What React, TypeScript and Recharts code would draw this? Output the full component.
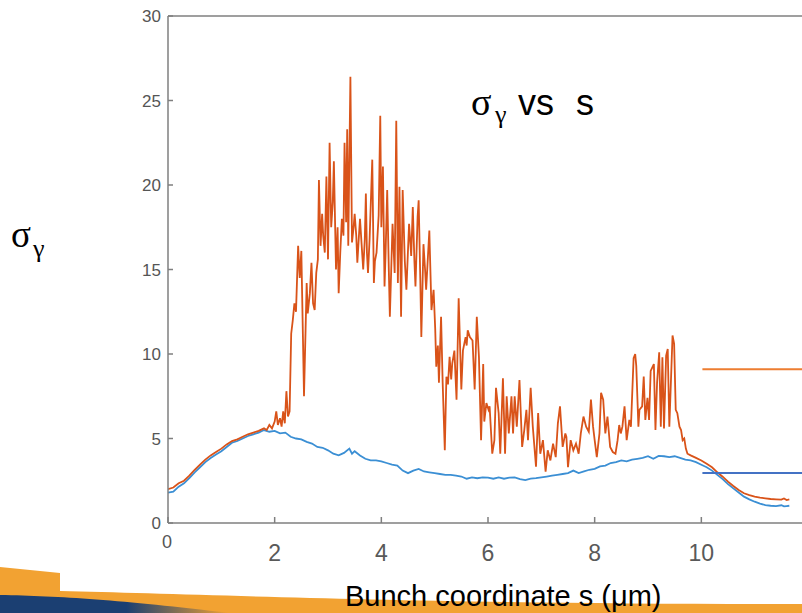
import { LineChart, Line, XAxis, YAxis, ReferenceLine } from "recharts";

// s (µm), sigma_gamma
const blueTrace: number[][] = [
  [0, 1.8], [0.1, 1.85], [0.2, 2.15], [0.3, 2.35], [0.4, 2.65], [0.5, 3.0], [0.6, 3.3], [0.7, 3.6],
  [0.8, 3.85], [0.9, 4.05], [1.0, 4.25], [1.1, 4.5], [1.2, 4.75], [1.3, 4.85], [1.4, 5.0], [1.5, 5.15],
  [1.6, 5.25], [1.7, 5.35], [1.8, 5.5], [1.9, 5.4], [2.0, 5.45], [2.1, 5.3], [2.2, 5.35], [2.3, 5.1],
  [2.4, 5.0], [2.5, 4.95], [2.6, 4.8], [2.7, 4.7], [2.8, 4.5], [2.9, 4.45], [3.0, 4.3], [3.1, 4.1],
  [3.2, 4.0], [3.3, 4.15], [3.4, 4.4], [3.45, 4.1], [3.5, 4.25], [3.6, 4.0], [3.7, 3.8], [3.8, 3.7],
  [3.9, 3.7], [4.0, 3.65], [4.1, 3.55], [4.2, 3.45], [4.3, 3.4], [4.4, 3.1], [4.5, 2.95], [4.6, 3.1],
  [4.7, 3.2], [4.8, 3.05], [4.9, 3.0], [5.0, 2.95], [5.1, 2.9], [5.2, 2.85], [5.3, 2.85], [5.4, 2.8],
  [5.5, 2.75], [5.6, 2.62], [5.7, 2.7], [5.8, 2.65], [5.9, 2.7], [6.0, 2.68], [6.1, 2.62], [6.2, 2.7],
  [6.3, 2.62], [6.4, 2.68], [6.5, 2.7], [6.6, 2.6], [6.7, 2.54], [6.8, 2.62], [6.9, 2.65], [7.0, 2.7],
  [7.1, 2.75], [7.2, 2.8], [7.3, 2.85], [7.4, 2.9], [7.5, 2.95], [7.6, 3.1], [7.7, 2.95], [7.8, 3.05],
  [7.9, 3.15], [8.0, 3.2], [8.1, 3.35], [8.2, 3.4], [8.3, 3.55], [8.4, 3.6], [8.5, 3.7], [8.6, 3.65],
  [8.7, 3.75], [8.8, 3.8], [8.9, 3.85], [9.0, 3.95], [9.1, 3.8], [9.2, 3.97], [9.3, 3.95], [9.4, 3.9],
  [9.5, 3.95], [9.6, 3.85], [9.7, 3.75], [9.8, 3.7], [9.9, 3.6], [10.0, 3.45], [10.1, 3.3], [10.2, 3.1],
  [10.3, 2.85], [10.4, 2.6], [10.5, 2.3], [10.6, 2.05], [10.7, 1.8], [10.8, 1.56], [10.9, 1.4], [11.0, 1.26],
  [11.1, 1.15], [11.2, 1.06], [11.3, 1.02], [11.4, 1.0], [11.5, 1.05], [11.55, 0.98], [11.6, 1.0], [11.65, 1.02],
];

const orangeTrace: number[][] = [
  [0, 2.0], [0.1, 2.1], [0.2, 2.35], [0.3, 2.5], [0.4, 2.8], [0.5, 3.15], [0.6, 3.45], [0.7, 3.75],
  [0.8, 4.0], [0.9, 4.2], [1.0, 4.4], [1.1, 4.65], [1.2, 4.85], [1.3, 4.95], [1.4, 5.1], [1.5, 5.25],
  [1.6, 5.35], [1.7, 5.45], [1.8, 5.6], [1.85, 5.5], [1.9, 5.8], [1.95, 5.6], [2.0, 6.0], [2.03, 6.6],
  [2.06, 5.8], [2.1, 6.2], [2.13, 5.7], [2.16, 6.6], [2.19, 5.9], [2.22, 7.8], [2.25, 6.3], [2.28, 6.6],
  [2.31, 11.2], [2.34, 12.0], [2.37, 13.0], [2.4, 12.5], [2.44, 16.4], [2.47, 14.5], [2.5, 16.1], [2.53, 11.0],
  [2.55, 7.5], [2.58, 11.5], [2.6, 14.2], [2.62, 12.4], [2.66, 13.6], [2.69, 15.4], [2.72, 13.0], [2.75, 12.6],
  [2.78, 14.8], [2.81, 15.6], [2.83, 20.3], [2.86, 16.4], [2.89, 18.3], [2.91, 17.0], [2.94, 16.0], [2.97, 20.5],
  [3.0, 15.6], [3.03, 22.5], [3.06, 17.5], [3.09, 19.0], [3.11, 21.4], [3.15, 15.0], [3.18, 17.5], [3.2, 13.6],
  [3.23, 16.0], [3.26, 18.0], [3.29, 17.0], [3.31, 22.5], [3.34, 17.8], [3.36, 23.3], [3.38, 16.4], [3.42, 26.4],
  [3.45, 16.6], [3.48, 17.5], [3.5, 18.3], [3.53, 17.0], [3.55, 15.4], [3.58, 17.0], [3.6, 18.0], [3.63, 16.5],
  [3.66, 15.0], [3.69, 16.8], [3.71, 19.5], [3.73, 16.0], [3.75, 14.8], [3.78, 16.8], [3.83, 21.5], [3.86, 14.2],
  [3.88, 15.5], [3.91, 16.0], [3.95, 18.2], [3.98, 24.1], [4.0, 17.5], [4.03, 21.1], [4.06, 14.0], [4.08, 16.0],
  [4.11, 19.7], [4.14, 15.0], [4.16, 12.2], [4.19, 15.5], [4.21, 17.7], [4.25, 14.8], [4.28, 23.8], [4.31, 14.2],
  [4.34, 19.9], [4.37, 12.2], [4.4, 19.7], [4.44, 15.5], [4.47, 13.8], [4.52, 17.7], [4.56, 15.8], [4.59, 18.7],
  [4.62, 15.5], [4.64, 14.0], [4.68, 18.1], [4.7, 19.1], [4.73, 14.5], [4.75, 11.0], [4.79, 16.5], [4.82, 15.0],
  [4.84, 13.8], [4.9, 17.3], [4.94, 12.6], [4.98, 13.8], [5.01, 11.5], [5.03, 9.25], [5.06, 10.5], [5.08, 8.3],
  [5.12, 12.2], [5.15, 8.3], [5.19, 4.3], [5.22, 8.66], [5.25, 8.2], [5.28, 9.84], [5.31, 8.5], [5.33, 9.45],
  [5.37, 10.2], [5.41, 7.3], [5.45, 13.3], [5.5, 7.9], [5.53, 10.2], [5.58, 11.0], [5.6, 10.5], [5.62, 11.4],
  [5.66, 11.0], [5.71, 10.8], [5.75, 7.9], [5.79, 12.2], [5.83, 9.84], [5.87, 4.9], [5.91, 9.4], [5.93, 6.0],
  [5.97, 7.1], [6.01, 6.7], [6.03, 6.9], [6.08, 4.1], [6.12, 4.9], [6.15, 8.0], [6.2, 6.5], [6.23, 4.1],
  [6.28, 8.56], [6.32, 4.1], [6.35, 7.5], [6.39, 5.3], [6.44, 7.5], [6.47, 5.3], [6.5, 7.5], [6.54, 5.7],
  [6.59, 8.46], [6.64, 4.5], [6.68, 5.5], [6.72, 6.7], [6.75, 4.9], [6.8, 8.0], [6.84, 5.7], [6.9, 3.33],
  [6.94, 6.5], [6.98, 4.1], [7.03, 4.9], [7.08, 3.04], [7.12, 4.3], [7.17, 3.7], [7.22, 4.7], [7.27, 3.9],
  [7.31, 5.9], [7.35, 6.9], [7.4, 4.5], [7.45, 5.3], [7.47, 5.1], [7.5, 3.3], [7.55, 4.9], [7.6, 4.3],
  [7.65, 4.7], [7.7, 4.1], [7.74, 5.3], [7.79, 6.3], [7.84, 5.7], [7.89, 5.4], [7.93, 7.3], [7.97, 5.7],
  [8.0, 4.9], [8.04, 3.9], [8.09, 5.3], [8.12, 7.7], [8.16, 7.3], [8.2, 5.3], [8.24, 6.3], [8.29, 4.5],
  [8.34, 4.2], [8.39, 4.1], [8.43, 4.9], [8.46, 5.8], [8.49, 5.3], [8.52, 5.7], [8.56, 6.9], [8.6, 4.9],
  [8.65, 6.1], [8.68, 5.7], [8.73, 9.75], [8.76, 10.0], [8.78, 9.3], [8.82, 5.7], [8.84, 6.7], [8.89, 6.9],
  [8.92, 8.66], [8.95, 6.1], [8.99, 7.4], [9.02, 6.1], [9.05, 9.0], [9.11, 9.4], [9.14, 5.5], [9.17, 8.3],
  [9.21, 10.1], [9.24, 5.7], [9.27, 9.8], [9.3, 5.6], [9.34, 9.9], [9.37, 10.3], [9.4, 5.7], [9.46, 11.1],
  [9.49, 10.6], [9.52, 6.7], [9.55, 6.5], [9.59, 5.7], [9.62, 5.5], [9.65, 4.9], [9.68, 5.0], [9.71, 4.4],
  [9.74, 4.1], [9.8, 4.0], [9.9, 3.85], [10.0, 3.7], [10.1, 3.5], [10.2, 3.3], [10.3, 3.0], [10.4, 2.74],
  [10.5, 2.45], [10.6, 2.19], [10.7, 1.95], [10.8, 1.76], [10.9, 1.65], [11.0, 1.56], [11.1, 1.5], [11.2, 1.46],
  [11.3, 1.42], [11.4, 1.4], [11.5, 1.38], [11.55, 1.45], [11.6, 1.36], [11.65, 1.4],
];

// the two short key lines at the right edge
const orangeKey = [[10.02, 9.1], [12, 9.1]];
const blueKey = [[10.02, 2.96], [12, 2.96]];

const xTicks = [0, 2, 4, 6, 8, 10, 12];
const yTicks = [0, 5, 10, 15, 20, 25, 30];

const toRows = (t: number[][]) => t.map(([s, v]) => ({ s, v }));
const toSeg = (t: number[][]) => t.map(([x, y]) => ({ x, y }));

const axisGray = "#7f7f7f";
const serif = "'Liberation Serif', 'Times New Roman', serif";
const sans = "'Liberation Sans', Arial, sans-serif";

const BottomTick = (props: any) => {
  const { x, y, payload } = props;
  if (payload.value > 10) return <g />;
  const zero = payload.value === 0;
  return (
    <text
      x={zero ? x - 1 : x}
      y={zero ? y - 10 : y}
      dy="0.71em"
      textAnchor="middle"
      fontSize={zero ? 18 : 23}
      fill={zero ? "#555" : "#595959"}
    >
      {payload.value}
    </text>
  );
};

export default function App() {
  return (
    <div
      style={{
        position: "fixed",
        left: 0,
        top: 0,
        width: 802,
        height: 613,
        overflow: "hidden",
        background: "#fff",
        fontFamily: sans,
      }}
    >
      {/* slide footer swoosh */}
      <svg width={802} height={613} style={{ position: "absolute", left: 0, top: 0 }}>
        <defs>
          <linearGradient id="foot" x1="0" x2="1" y1="0" y2="0">
            <stop offset="0" stopColor="#1B3F72" />
            <stop offset="0.55" stopColor="#1B3F72" />
            <stop offset="1" stopColor="#F2A232" />
          </linearGradient>
        </defs>
        <path d="M0,567 L60,573 L60,591 C200,594 420,604 802,604 L802,613 L0,613 Z" fill="#F2A232" />
        <path d="M0,595 C60,596 120,600 230,613 L0,613 Z" fill="url(#foot)" />
      </svg>

      <div style={{ position: "absolute", left: 0, top: 0 }}>
        <LineChart width={850} height={613} margin={{ top: 0, right: 0, bottom: 0, left: 0 }} style={{ fontFamily: sans }}>
          <XAxis
            dataKey="s"
            type="number"
            domain={[0, 12]}
            ticks={xTicks}
            height={90}
            stroke={axisGray}
            strokeWidth={1.5}
            tickSize={-6}
            tickMargin={28}
            tick={<BottomTick />}
            allowDataOverflow
          />
          <XAxis
            xAxisId="top"
            orientation="top"
            type="number"
            domain={[0, 12]}
            ticks={xTicks}
            height={16}
            stroke={axisGray}
            strokeWidth={1.5}
            tickSize={-5}
            tickFormatter={() => ""}
          />
          <YAxis
            type="number"
            domain={[0, 30]}
            ticks={yTicks}
            width={168}
            stroke={axisGray}
            strokeWidth={1.5}
            tickSize={-5}
            tickMargin={12}
            tick={{ fontSize: 17, fill: "#555" }}
            allowDataOverflow
          />
          <YAxis
            yAxisId="right"
            orientation="right"
            type="number"
            domain={[0, 30]}
            ticks={yTicks}
            width={42}
            stroke={axisGray}
            strokeWidth={1.5}
            tickSize={-8}
            tickFormatter={() => ""}
          />
          <Line
            data={toRows(blueTrace)}
            dataKey="v"
            type="linear"
            stroke="#3b8fd4"
            strokeWidth={1.8}
            dot={false}
            activeDot={false}
            isAnimationActive={false}
          />
          <Line
            data={toRows(orangeTrace)}
            dataKey="v"
            type="linear"
            stroke="#D95319"
            strokeWidth={1.8}
            dot={false}
            activeDot={false}
            isAnimationActive={false}
          />
          <ReferenceLine segment={toSeg(orangeKey)} stroke="#ED7D31" strokeWidth={2} ifOverflow="visible" />
          <ReferenceLine segment={toSeg(blueKey)} stroke="#4472C4" strokeWidth={2} ifOverflow="visible" />
        </LineChart>
      </div>

      {/* slide text */}
      <svg width={802} height={613} style={{ position: "absolute", left: 0, top: 0, pointerEvents: "none" }}>
        <text x={471} y={115} fontFamily={serif} fontSize={38} fill="#000">
          σ
        </text>
        <text x={495} y={123} fontFamily={serif} fontSize={26} fill="#000">
          γ
        </text>
        <text y={115} fontFamily={sans} fontSize={36} fill="#000">
          <tspan x={518}>vs</tspan>
          <tspan x={576}>s</tspan>
        </text>
        <text x={11} y={247} fontFamily={serif} fontSize={37} fill="#000">
          σ
        </text>
        <text x={33} y={257} fontFamily={serif} fontSize={26} fill="#000">
          γ
        </text>
        <text x={345} y={606} fontFamily={sans} fontSize={29} fill="#000">
          Bunch coordinate s (μm)
        </text>
      </svg>
    </div>
  );
}
